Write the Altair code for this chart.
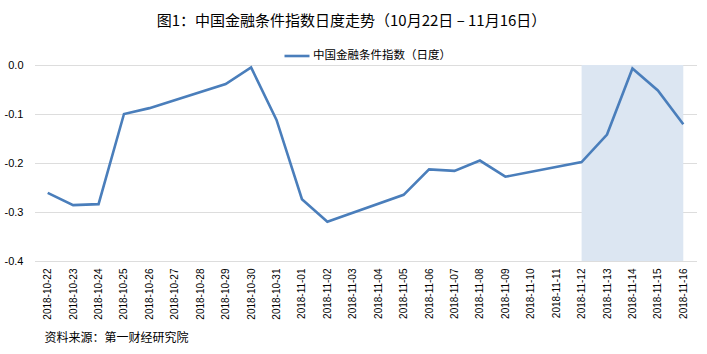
import altair as alt
import pandas as pd

all_dates = [
    "2018-10-22", "2018-10-23", "2018-10-24", "2018-10-25", "2018-10-26",
    "2018-10-27", "2018-10-28", "2018-10-29", "2018-10-30", "2018-10-31",
    "2018-11-01", "2018-11-02", "2018-11-03", "2018-11-04", "2018-11-05",
    "2018-11-06", "2018-11-07", "2018-11-08", "2018-11-09", "2018-11-10",
    "2018-11-11", "2018-11-12", "2018-11-13", "2018-11-14", "2018-11-15",
    "2018-11-16",
]
trade_dates = [
    "2018-10-22", "2018-10-23", "2018-10-24", "2018-10-25", "2018-10-26",
    "2018-10-29", "2018-10-30", "2018-10-31", "2018-11-01", "2018-11-02",
    "2018-11-05", "2018-11-06", "2018-11-07", "2018-11-08", "2018-11-09",
    "2018-11-12", "2018-11-13", "2018-11-14", "2018-11-15", "2018-11-16",
]
index_values = [
    -0.261, -0.286, -0.284, -0.100, -0.088,
    -0.039, -0.005, -0.112, -0.274, -0.320,
    -0.265, -0.213, -0.216, -0.195, -0.228,
    -0.198, -0.142, -0.007, -0.052, -0.121,
]
series_name = "中国金融条件指数（日度）"
shade_start = ["2018-11-12"]
shade_end = ["2018-11-16"]
shade_top = [0.0]
shade_bottom = [-0.4]
y_ticks = [0.0, -0.1, -0.2, -0.3, -0.4]

title_text = "图1：中国金融条件指数日度走势（10月22日 – 11月16日）"
source_text = "资料来源：第一财经研究院"

line_df = pd.DataFrame({
    "date": trade_dates,
    "value": index_values,
    "series": [series_name] * len(trade_dates),
})
shade_df = pd.DataFrame({
    "start": shade_start,
    "end": shade_end,
    "top": shade_top,
    "bottom": shade_bottom,
})

CJK = "Noto Sans CJK SC"
LAT = "Liberation Sans"

x_scale = alt.Scale(type="point", domain=all_dates, padding=0.5)
y_scale = alt.Scale(domain=[-0.4, 0.0], nice=False, zero=False)

x_axis = alt.Axis(
    title=source_text, titleFont=CJK, titleFontSize=12, titleFontWeight="normal",
    titleColor="#000000", titleX=9, titleY=76, titleAlign="left",
    titleBaseline="middle", titleAnchor="start",
    labelAngle=270, labelFont=LAT, labelFontSize=10, labelColor="#000000",
    labelPadding=7, ticks=False, domain=False, grid=False, labelOverlap=False,
)
y_axis = alt.Axis(
    title=None, values=y_ticks, grid=True, gridColor="#BBBBBB",
    gridDash=[1, 1], gridWidth=1, domain=False, ticks=False,
    labelFont=LAT, labelFontSize=11, labelColor="#000000", labelPadding=12,
    labelExpr="replace(format(datum.value, '.1f'), '\u2212', '-')",
)

shade = alt.Chart(shade_df).mark_rect(color="#DCE6F2").encode(
    x=alt.X("start:N", scale=x_scale, axis=x_axis),
    x2="end:N",
    y=alt.Y("top:Q", scale=y_scale, axis=y_axis),
    y2="bottom:Q",
)

line = alt.Chart(line_df).mark_line(strokeWidth=2.6).encode(
    x=alt.X("date:N", scale=x_scale, axis=x_axis, sort=all_dates),
    y=alt.Y("value:Q", scale=y_scale, axis=y_axis),
    color=alt.Color(
        "series:N",
        scale=alt.Scale(range=["#4A7EBB"]),
        legend=alt.Legend(
            title=None, orient="none", legendX=248, legendY=-23,
            symbolType="stroke", symbolSize=625, symbolStrokeWidth=2.6,
            labelFont=CJK, labelFontSize=11.5, labelColor="#000000",
            labelOffset=2, padding=0,
        ),
    ),
)

chart = alt.layer(shade, line).properties(
    width=661,
    height=196,
    autosize=alt.AutoSizeParams(type="none"),
    padding={"left": 35, "top": 65, "right": 11, "bottom": 93},
    title=alt.TitleParams(
        text=title_text, font=CJK, fontSize=15, fontWeight="normal",
        color="#000000", anchor="middle", frame="group", dx=-14, offset=13,
    ),
).configure_view(stroke=None)

chart.save("out.html", embed_options={"renderer": "svg", "actions": False})
